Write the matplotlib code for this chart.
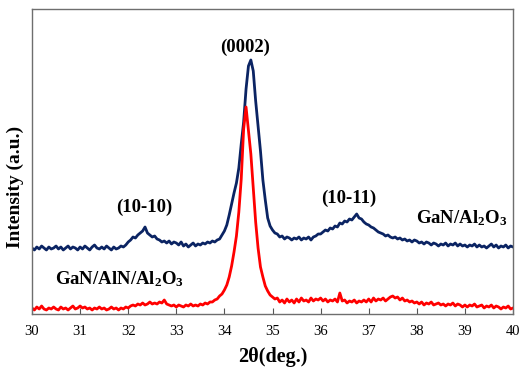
import numpy as np
import matplotlib
matplotlib.use("Agg")
import matplotlib.pyplot as plt

plt.rcParams['font.family'] = ['Liberation Serif', 'DejaVu Serif']
plt.rcParams['mathtext.default'] = 'regular'

two_theta = np.round(np.arange(0, 201) * 0.05 + 30.0, 2)

gan_sapphire = [
    66, 64, 67, 65, 68, 66, 64, 67, 65, 66, 68, 65, 67, 64, 66, 68, 65, 67, 66, 64,
    67, 65, 68, 66, 64, 67, 69, 66, 65, 67, 65, 68, 66, 64, 67, 65, 66, 68, 67, 69,
    72, 74, 77, 76, 79, 81, 83, 87, 81, 79, 77, 78, 75, 74, 72, 73, 71, 73, 70, 72,
    71, 69, 72, 68, 70, 67, 69, 71, 68, 70, 69, 71, 70, 72, 71, 73, 72, 74, 75, 79,
    83, 89, 99, 110, 121, 131, 146, 170, 192, 225, 248, 254, 243, 213, 188, 163, 134, 114, 96, 88,
    84, 81, 80, 77, 78, 75, 77, 76, 74, 76, 75, 77, 74, 76, 75, 77, 74, 77, 78, 80,
    80, 82, 84, 83, 86, 85, 88, 87, 91, 90, 93, 92, 95, 94, 97, 100, 96, 95, 92, 90,
    89, 87, 86, 84, 82, 81, 80, 78, 79, 77, 76, 77, 75, 76, 74, 75, 73, 74, 72, 74,
    73, 71, 72, 70, 72, 71, 69, 71, 70, 68, 70, 69, 71, 68, 70, 69, 71, 68, 70, 68,
    69, 67, 69, 68, 70, 67, 69, 67, 68, 66, 68, 70, 67, 69, 66, 68, 67, 69, 66, 68, 67,
]

gan_aln_sapphire = [
    6, 4, 7, 5, 8, 5, 4, 6, 5, 7, 5, 4, 7, 5, 6, 4, 6, 8, 5, 6,
    8, 6, 7, 5, 6, 4, 6, 5, 7, 5, 6, 4, 5, 7, 5, 6, 4, 6, 5, 7,
    6, 8, 9, 8, 10, 9, 11, 9, 10, 12, 10, 11, 10, 12, 11, 14, 10, 9, 8, 9,
    7, 9, 8, 7, 9, 8, 10, 8, 9, 8, 10, 9, 11, 10, 12, 12, 14, 15, 18, 20,
    24, 29, 37, 48, 62, 78, 102, 135, 185, 207, 183, 160, 126, 92, 66, 47, 37, 28, 23, 19,
    17, 15, 16, 12, 14, 11, 15, 12, 14, 11, 15, 12, 16, 13, 14, 12, 16, 13, 15, 14,
    16, 13, 15, 12, 14, 13, 15, 12, 21, 13, 14, 11, 13, 12, 14, 11, 13, 12, 14, 12,
    15, 12, 16, 13, 15, 14, 16, 13, 15, 17, 18, 16, 17, 14, 16, 13, 14, 12, 13, 11,
    12, 10, 12, 9, 11, 10, 12, 9, 10, 11, 9, 10, 8, 10, 9, 11, 8, 10, 9, 7,
    9, 7, 9, 8, 10, 7, 8, 9, 6, 8, 7, 9, 6, 8, 7, 5, 7, 6, 8, 5, 6,
]

x_ticks = list(range(30, 41))
peak_labels = ["(0002)", "(10-10)", "(10-11)"]
series_labels = ["GaN/Al$_2$O$_3$", "GaN/AlN/Al$_2$O$_3$"]

W, H = 522, 369
fig = plt.figure(figsize=(W / 100, H / 100), dpi=100)
ax = fig.add_axes([32 / W, 1 - 314 / H, (513 - 32) / W, (314 - 9) / H])

ax.plot(two_theta, gan_sapphire, color='#0b2463', lw=2.0)
ax.plot(two_theta, gan_aln_sapphire, color='#ff0000', lw=2.0)

ax.set_xlim(30, 40)
ax.set_ylim(0, 305)
ax.set_xticks(x_ticks)
ax.set_xticklabels([str(t) for t in x_ticks], fontsize=10.5)
ax.set_yticks([])
ax.tick_params(axis='x', direction='in', length=4, color='#555555', pad=8)
for s in ax.spines.values():
    s.set_color('#6e6e6e')
    s.set_linewidth(1.0)

bold = dict(fontweight='bold', fontsize=13.5, ha='center', va='center')
fig.text(245 / W, 1 - 47 / H, peak_labels[0], **bold)
fig.text(144 / W, 1 - 207 / H, peak_labels[1], **bold)
fig.text(349 / W, 1 - 198 / H, peak_labels[2], **bold)
fig.text(462 / W, 1 - 218 / H, series_labels[0], **bold)
fig.text(119 / W, 1 - 279 / H, series_labels[1], **bold)

fig.text(273 / W, 1 - 357 / H, "2θ(deg.)", fontweight='bold', fontsize=14.5,
         ha='center', va='center')
fig.text(15 / W, 1 - 187 / H, "Intensity (a.u.)", fontweight='bold', fontsize=14,
         ha='center', va='center', rotation=90)

fig.savefig("out.png", dpi=100)
